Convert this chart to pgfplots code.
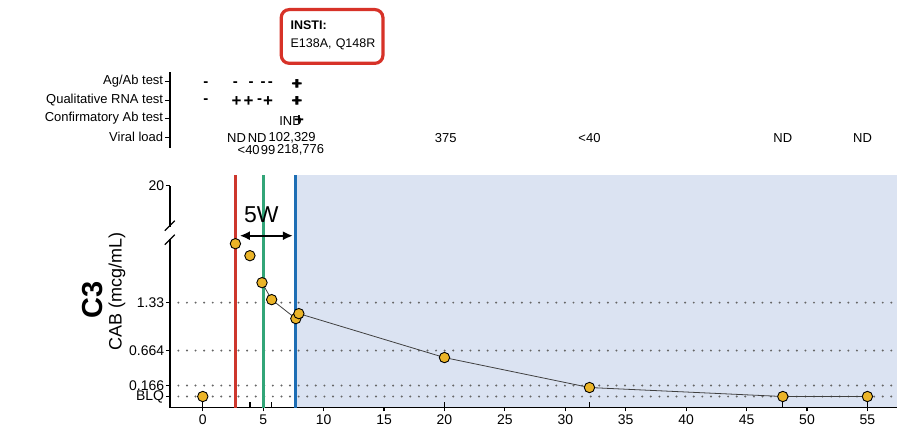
\documentclass[border=0pt]{standalone}
\usepackage{fontspec}
\setmainfont{Liberation Sans}
\usepackage{pgfplots}
\usepackage{pgfplotstable}
\pgfplotsset{compat=1.18}
\usetikzlibrary{arrows.meta}
\definecolor{vred}{RGB}{205,55,45}
\definecolor{vgreen}{RGB}{50,165,120}
\definecolor{vblue}{RGB}{30,110,180}
\definecolor{shade}{RGB}{219,227,242}
\definecolor{mfill}{RGB}{235,180,40}
\definecolor{boxred}{RGB}{215,50,40}

% CAB concentration (y = position on the broken, non-linear scale)
\pgfplotstableread{
x y
0 11
2.7 164
3.9 152
4.9 125
5.7 108
7.7 89
7.95 94
20 50
32 20
48 11
55 11
}\cabdata
\pgfplotstableread{
x y
4.9 125
5.7 108
7.7 89
7.95 94
20 50
32 20
48 11
55 11
}\cabline

\pgfplotstableread{
x y lab
0.25 3.85 -
2.7 3.85 -
4.0 3.85 -
5.0 3.85 -
5.6 3.85 -
}\agabneg
\pgfplotstableread{
x y lab
7.75 3.85 +
7.85 3.85 +
}\agabpos
\pgfplotstableread{
x y lab
0.25 2.93 -
4.7 2.93 -
}\qualneg
\pgfplotstableread{
x y lab
2.8 2.93 +
3.8 2.93 +
5.4 2.93 +
7.75 2.93 +
7.85 2.93 +
}\qualpos
\pgfplotstableread{
x y lab
7.26 1.88 IND
}\confind
\pgfplotstableread{
x y lab
7.96 1.88 +
}\confpos
\pgfplotstableread{
x y lab
2.8 0.95 ND
4.5 0.95 ND
7.4 0.95 102,329
20.1 0.95 375
32 0.95 <40
48 0.95 ND
54.6 0.95 ND
3.8 0.32 <40
5.4 0.32 99
8.1 0.32 218,776
}\vload

\begin{document}
\begin{tikzpicture}

% ---------- top panel ----------
\begin{axis}[
  at={(170pt,283pt)}, anchor=south west,
  scale only axis, width=728pt, height=76pt,
  xmin=-2.73, xmax=57.44, ymin=0.423, ymax=4.523,
  axis x line=none, axis y line*=left,
  y axis line style={line width=1.6pt},
  ytick={1,2,3,4},
  yticklabels={Viral load,Confirmatory Ab test,Qualitative RNA test,Ag/Ab test},
  tick align=outside, major tick length=5pt,
  ytick style={black, line width=1.2pt},
  yticklabel style={font=\fontsize{13}{13}\selectfont, inner sep=1.5pt},
  clip=false,
  symneg/.style={draw=none, mark=none, nodes near coords, point meta=explicit symbolic,
    nodes near coords align={center},
    every node near coord/.style={anchor=center, inner sep=0pt, font=\bfseries\fontsize{15}{15}\selectfont}},
  sympos/.style={draw=none, mark=none, nodes near coords, point meta=explicit symbolic,
    nodes near coords align={center},
    every node near coord/.style={anchor=center, inner sep=0pt, font=\bfseries\fontsize{17}{17}\selectfont}},
  symtxt/.style={draw=none, mark=none, nodes near coords, point meta=explicit symbolic,
    nodes near coords align={center},
    every node near coord/.style={anchor=center, inner sep=0pt, font=\fontsize{13}{13}\selectfont}},
]
\addplot[symneg] table[x=x,y=y,meta=lab] {\agabneg};
\addplot[sympos] table[x=x,y=y,meta=lab] {\agabpos};
\addplot[symneg] table[x=x,y=y,meta=lab] {\qualneg};
\addplot[sympos] table[x=x,y=y,meta=lab] {\qualpos};
\addplot[symtxt] table[x=x,y=y,meta=lab] {\confind};
\addplot[sympos] table[x=x,y=y,meta=lab] {\confpos};
\addplot[symtxt] table[x=x,y=y,meta=lab] {\vload};
\end{axis}

% ---------- main panel ----------
\begin{axis}[
  at={(170pt,23pt)}, anchor=south west,
  scale only axis, width=728pt, height=233pt,
  xmin=-2.73, xmax=57.44, ymin=0, ymax=233,
  set layers,
  axis lines*=left,
  y axis line style={draw=none},
  x axis line style={line width=1.6pt},
  xtick={0,5,...,55},
  ytick={11,22,57,105},
  yticklabels={BLQ,0.166,0.664,1.33},
  extra y ticks={222}, extra y tick labels={20},
  extra y tick style={grid=none},
  tick align=outside, major tick length=4pt,
  tick style={black, line width=1.2pt},
  ymajorgrids,
  grid style={black!60, line width=2.2pt, line cap=round, dash pattern=on 0pt off 8.6pt},
  ticklabel style={font=\fontsize{14}{14}\selectfont},
  yticklabel style={inner sep=1.5pt},
  /pgf/number format/assume math mode=true,
  clip=false,
]
\addplot[fill=shade, draw=none, on layer=axis background] coordinates {(7.7,0) (57.44,0) (57.44,233) (7.7,233)};
% sampling-day ticks inside the axis
\addplot[ycomb, black, line width=1.2pt, mark=none] coordinates {(0,6) (3.9,6) (5.7,6) (20,6) (32,6) (48,6) (55,6)};
\addplot[vred, line width=3pt] coordinates {(2.7,0) (2.7,233)};
\addplot[vgreen, line width=3pt] coordinates {(5.0,0) (5.0,233)};
\addplot[vblue, line width=3pt] coordinates {(7.7,0) (7.7,233)};
\addplot[black!75, line width=0.8pt] table[x=x,y=y] {\cabline};
\addplot[only marks, mark=*, mark size=5.2pt, mark options={fill=mfill, draw=black, line width=0.9pt}] table[x=x,y=y] {\cabdata};
\draw[{Latex[length=10pt,width=9pt]}-{Latex[length=10pt,width=9pt]}, line width=2.2pt] (axis cs:3.06,172) -- (axis cs:7.46,172);
\node[font=\fontsize{23}{23}\selectfont] at (axis cs:4.85,193) {5W};
% broken y spine
\draw[line width=1.6pt] (axis cs:-2.73,0) -- (axis cs:-2.73,169);
\draw[line width=1.6pt] (axis cs:-2.73,181) -- (axis cs:-2.73,222);
\draw[line width=1.2pt] ([xshift=-5pt]axis cs:-2.73,163) -- ([xshift=5pt]axis cs:-2.73,173);
\draw[line width=1.2pt] ([xshift=-5pt]axis cs:-2.73,177) -- ([xshift=5pt]axis cs:-2.73,187);
\end{axis}

% ---------- labels ----------
\node[rotate=90, font=\bfseries\fontsize{29}{29}\selectfont] at (93pt,131pt) {C3};
\node[rotate=90, font=\fontsize{18}{18}\selectfont] at (117pt,139pt) {CAB (mcg/mL)};
\node[draw=boxred, line width=3.2pt, rounded corners=8pt, minimum width=101.8pt, minimum height=53.8pt, inner sep=0pt] at (332.5pt,394.5pt) {};
\node[align=left, text width=96pt, inner sep=0pt, font=\fontsize{12.5}{18}\selectfont] at (339pt,396pt) {\textbf{INSTI:}\\E138A, Q148R};
\path (0pt,0pt) rectangle (898pt,431pt);
\end{tikzpicture}
\end{document}
